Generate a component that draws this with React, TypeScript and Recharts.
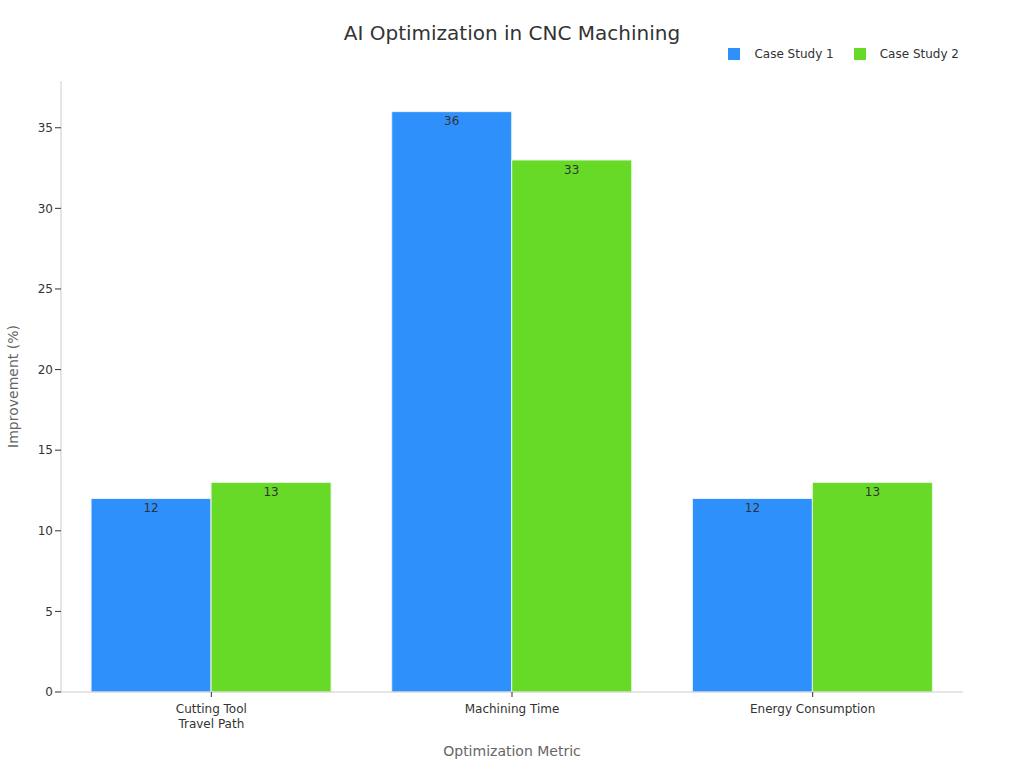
import React from 'react';
import { BarChart, Bar, XAxis, YAxis, Legend, LabelList } from 'recharts';

const categories = ['Cutting Tool\nTravel Path', 'Machining Time', 'Energy Consumption'];
const caseStudy1 = [12, 36, 12];
const caseStudy2 = [13, 33, 13];
const yTicks = [0, 5, 10, 15, 20, 25, 30, 35];

const data = categories.map((c, i) => ({ name: c, cs1: caseStudy1[i], cs2: caseStudy2[i] }));

const FONT = 'DejaVu Sans, sans-serif';

const XTick = (props: any) => {
  const { x, y, payload } = props;
  const lines = String(payload.value).split('\n');
  return (
    <g transform={`translate(${x},${y})`}>
      <text textAnchor="middle" fill="#333" fontSize={12} fontFamily={FONT}>
        {lines.map((l: string, i: number) => (
          <tspan key={i} x={0} dy={i === 0 ? 14 : 15}>{l}</tspan>
        ))}
      </text>
    </g>
  );
};

const LegendContent = () => (
  <div style={{ display: 'flex', justifyContent: 'flex-end', fontFamily: FONT, fontSize: 12, color: '#333' }}>
    {[{ n: 'Case Study 1', c: '#2E90FA' }, { n: 'Case Study 2', c: '#66DA26' }].map((e) => (
      <div key={e.n} style={{ display: 'flex', alignItems: 'center', marginLeft: 20 }}>
        <span style={{ width: 12, height: 12, background: e.c, display: 'inline-block', marginRight: 14 }} />
        <span>{e.n}</span>
      </div>
    ))}
  </div>
);

export default function App() {
  return (
    <div style={{ position: 'absolute', left: 0, top: 0 }}>
      <BarChart
        width={1024}
        height={768}
        data={data}
        margin={{ top: 67, right: 61, bottom: 0, left: 0 }}
        barCategoryGap="10%"
        barGap={0}
      >
        <text x={512} y={40} textAnchor="middle" fontSize={20} fill="#333" fontFamily={FONT}>
          AI Optimization in CNC Machining
        </text>
        <XAxis
          dataKey="name"
          height={76}
          tick={<XTick />}
          tickLine={{ stroke: '#333' }}
          tickSize={5}
          axisLine={{ stroke: '#ccc' }}
          interval={0}
          label={{ value: 'Optimization Metric', position: 'insideBottom', offset: 12, fill: '#666', fontSize: 14, fontFamily: FONT }}
        />
        <YAxis
          width={61}
          domain={[0, 37.9]}
          ticks={yTicks}
          tick={{ fill: '#333', fontSize: 12, fontFamily: FONT }}
          tickLine={{ stroke: '#333' }}
          axisLine={{ stroke: '#ccc' }}
          label={{ value: 'Improvement (%)', angle: -90, position: 'insideLeft', offset: 13, textAnchor: 'middle', fill: '#666', fontSize: 14, fontFamily: FONT }}
        />
        <Legend verticalAlign="top" align="right" content={<LegendContent />} wrapperStyle={{ top: 47, right: 65, width: 400, left: 'auto' }} />
        <Bar dataKey="cs1" name="Case Study 1" fill="#2E90FA" stroke="#e8f0fa" isAnimationActive={false}>
          <LabelList dataKey="cs1" position="insideTop" fill="#333" fontSize={12} fontFamily={FONT} />
        </Bar>
        <Bar dataKey="cs2" name="Case Study 2" fill="#66DA26" stroke="#e8f5e0" isAnimationActive={false}>
          <LabelList dataKey="cs2" position="insideTop" fill="#333" fontSize={12} fontFamily={FONT} />
        </Bar>
      </BarChart>
    </div>
  );
}
